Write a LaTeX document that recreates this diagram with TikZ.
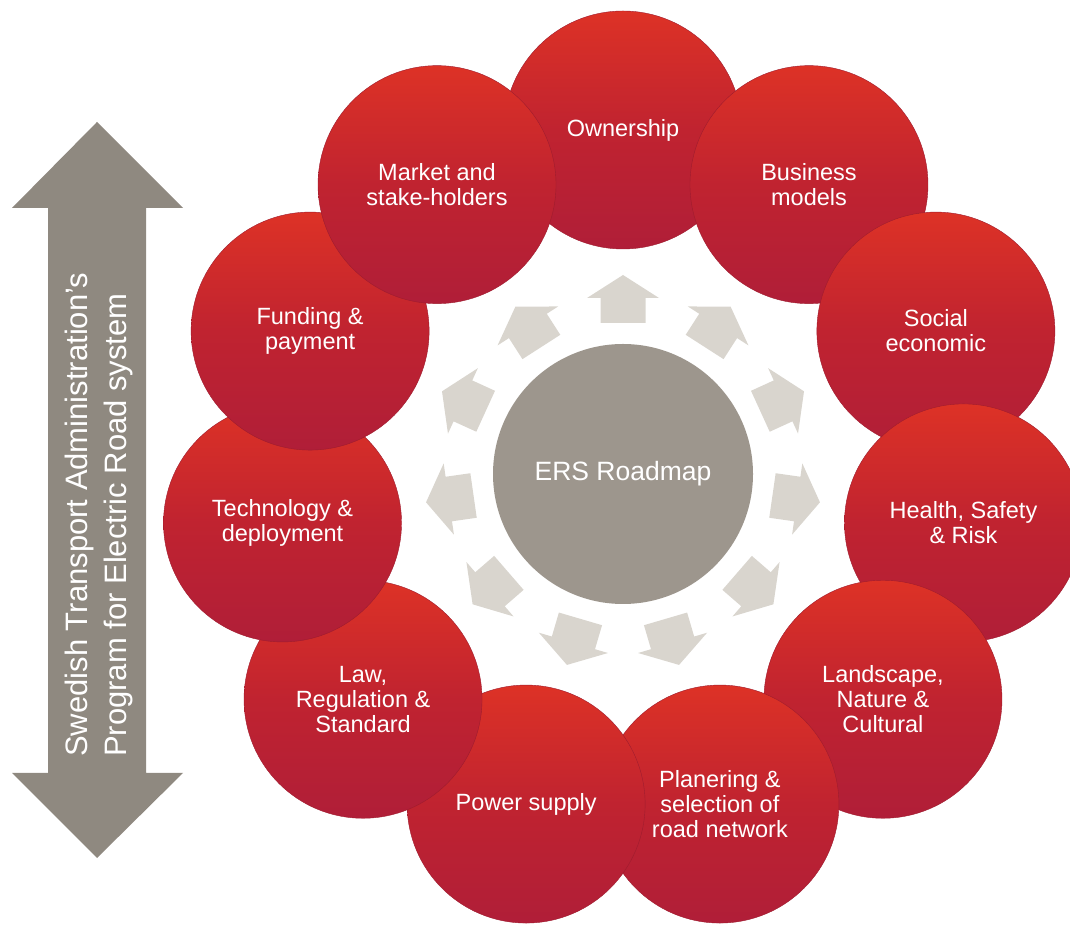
\documentclass[tikz,border=0pt]{standalone}
\usepackage{fontspec}
\setmainfont{Liberation Sans}
\definecolor{redtop}{RGB}{221,50,38}
\definecolor{redmid}{RGB}{192,35,48}
\definecolor{redbot}{RGB}{176,30,56}
\definecolor{redline}{RGB}{158,28,46}
\definecolor{hubgray}{RGB}{157,150,141}
\definecolor{arrowgray}{RGB}{217,213,206}
\definecolor{bigarrow}{RGB}{143,137,128}
\begin{document}
\begin{tikzpicture}[x=1pt,y=1pt,
  topic/.style={circle, minimum size=238pt, inner sep=0pt, top color=redtop, bottom color=redbot, middle color=redmid, draw=redline, line width=0.4pt, text=white, align=center, font=\fontsize{23.5}{25}\selectfont},
  hub/.style={circle, minimum size=260pt, inner sep=0pt, fill=hubgray, text=white, font=\fontsize{26.5}{30}\selectfont},
  spoke/.style={fill=arrowgray},
  bigarrowstyle/.style={fill=bigarrow},
  sidetext/.style={rotate=90, anchor=west, align=left, text=white, inner sep=0pt, font=\fontsize{31}{39}\selectfont}]
\useasboundingbox (0,0) rectangle (1070,926);
\coordinate (c) at (623,452);

% topic circles (drawn in stacking order)
\node[topic] (own)  at ([shift={(90:344)}]c)      {Ownership};
\node[topic] (bus)  at ([shift={(57.27:344)}]c)   {Business\\models};
\node[topic] (soc)  at ([shift={(24.55:344)}]c)   {Social\\economic};
\node[topic] (hea)  at ([shift={(-8.18:344)}]c)   {Health, Safety\\\& Risk};
\node[topic] (lan)  at ([shift={(-40.91:344)}]c)  {Landscape,\\Nature \&\\Cultural};
\node[topic] (pla)  at ([shift={(-73.64:344)}]c)  {Planering \&\\selection of\\road network};
\node[topic] (pow)  at ([shift={(-106.36:344)}]c) {Power supply};
\node[topic] (law)  at ([shift={(-139.09:344)}]c) {Law,\\Regulation \&\\Standard};
\node[topic] (tec)  at ([shift={(-171.82:344)}]c) {Technology \&\\deployment};
\node[topic] (fun)  at ([shift={(155.45:344)}]c)  {Funding \&\\payment};
\node[topic] (mar)  at ([shift={(122.73:344)}]c)  {Market and\\stake-holders};

% outward arrows
\foreach \k in {0,...,10}{
  \pgfmathsetmacro\a{90-\k*360/11}
  \fill[spoke, shift={(623,452)}, rotate=\a]
    (151,-22.5) -- (176,-22.5) -- (176,-36) -- (199,0) -- (176,36) -- (176,22.5) -- (151,22.5) -- cycle;
}

% hub
\node[hub] (hub) at (c) {ERS Roadmap};

% side double arrow
\fill[bigarrowstyle] (97,804) -- (183,718) -- (146,718) -- (146,153) -- (183,153) -- (97,68)
  -- (12,153) -- (48,153) -- (48,718) -- (12,718) -- cycle;
\node[sidetext] (prog) at (99,169) {Swedish Transport Administration’s\\Program for Electric Road system};
\end{tikzpicture}
\end{document}
